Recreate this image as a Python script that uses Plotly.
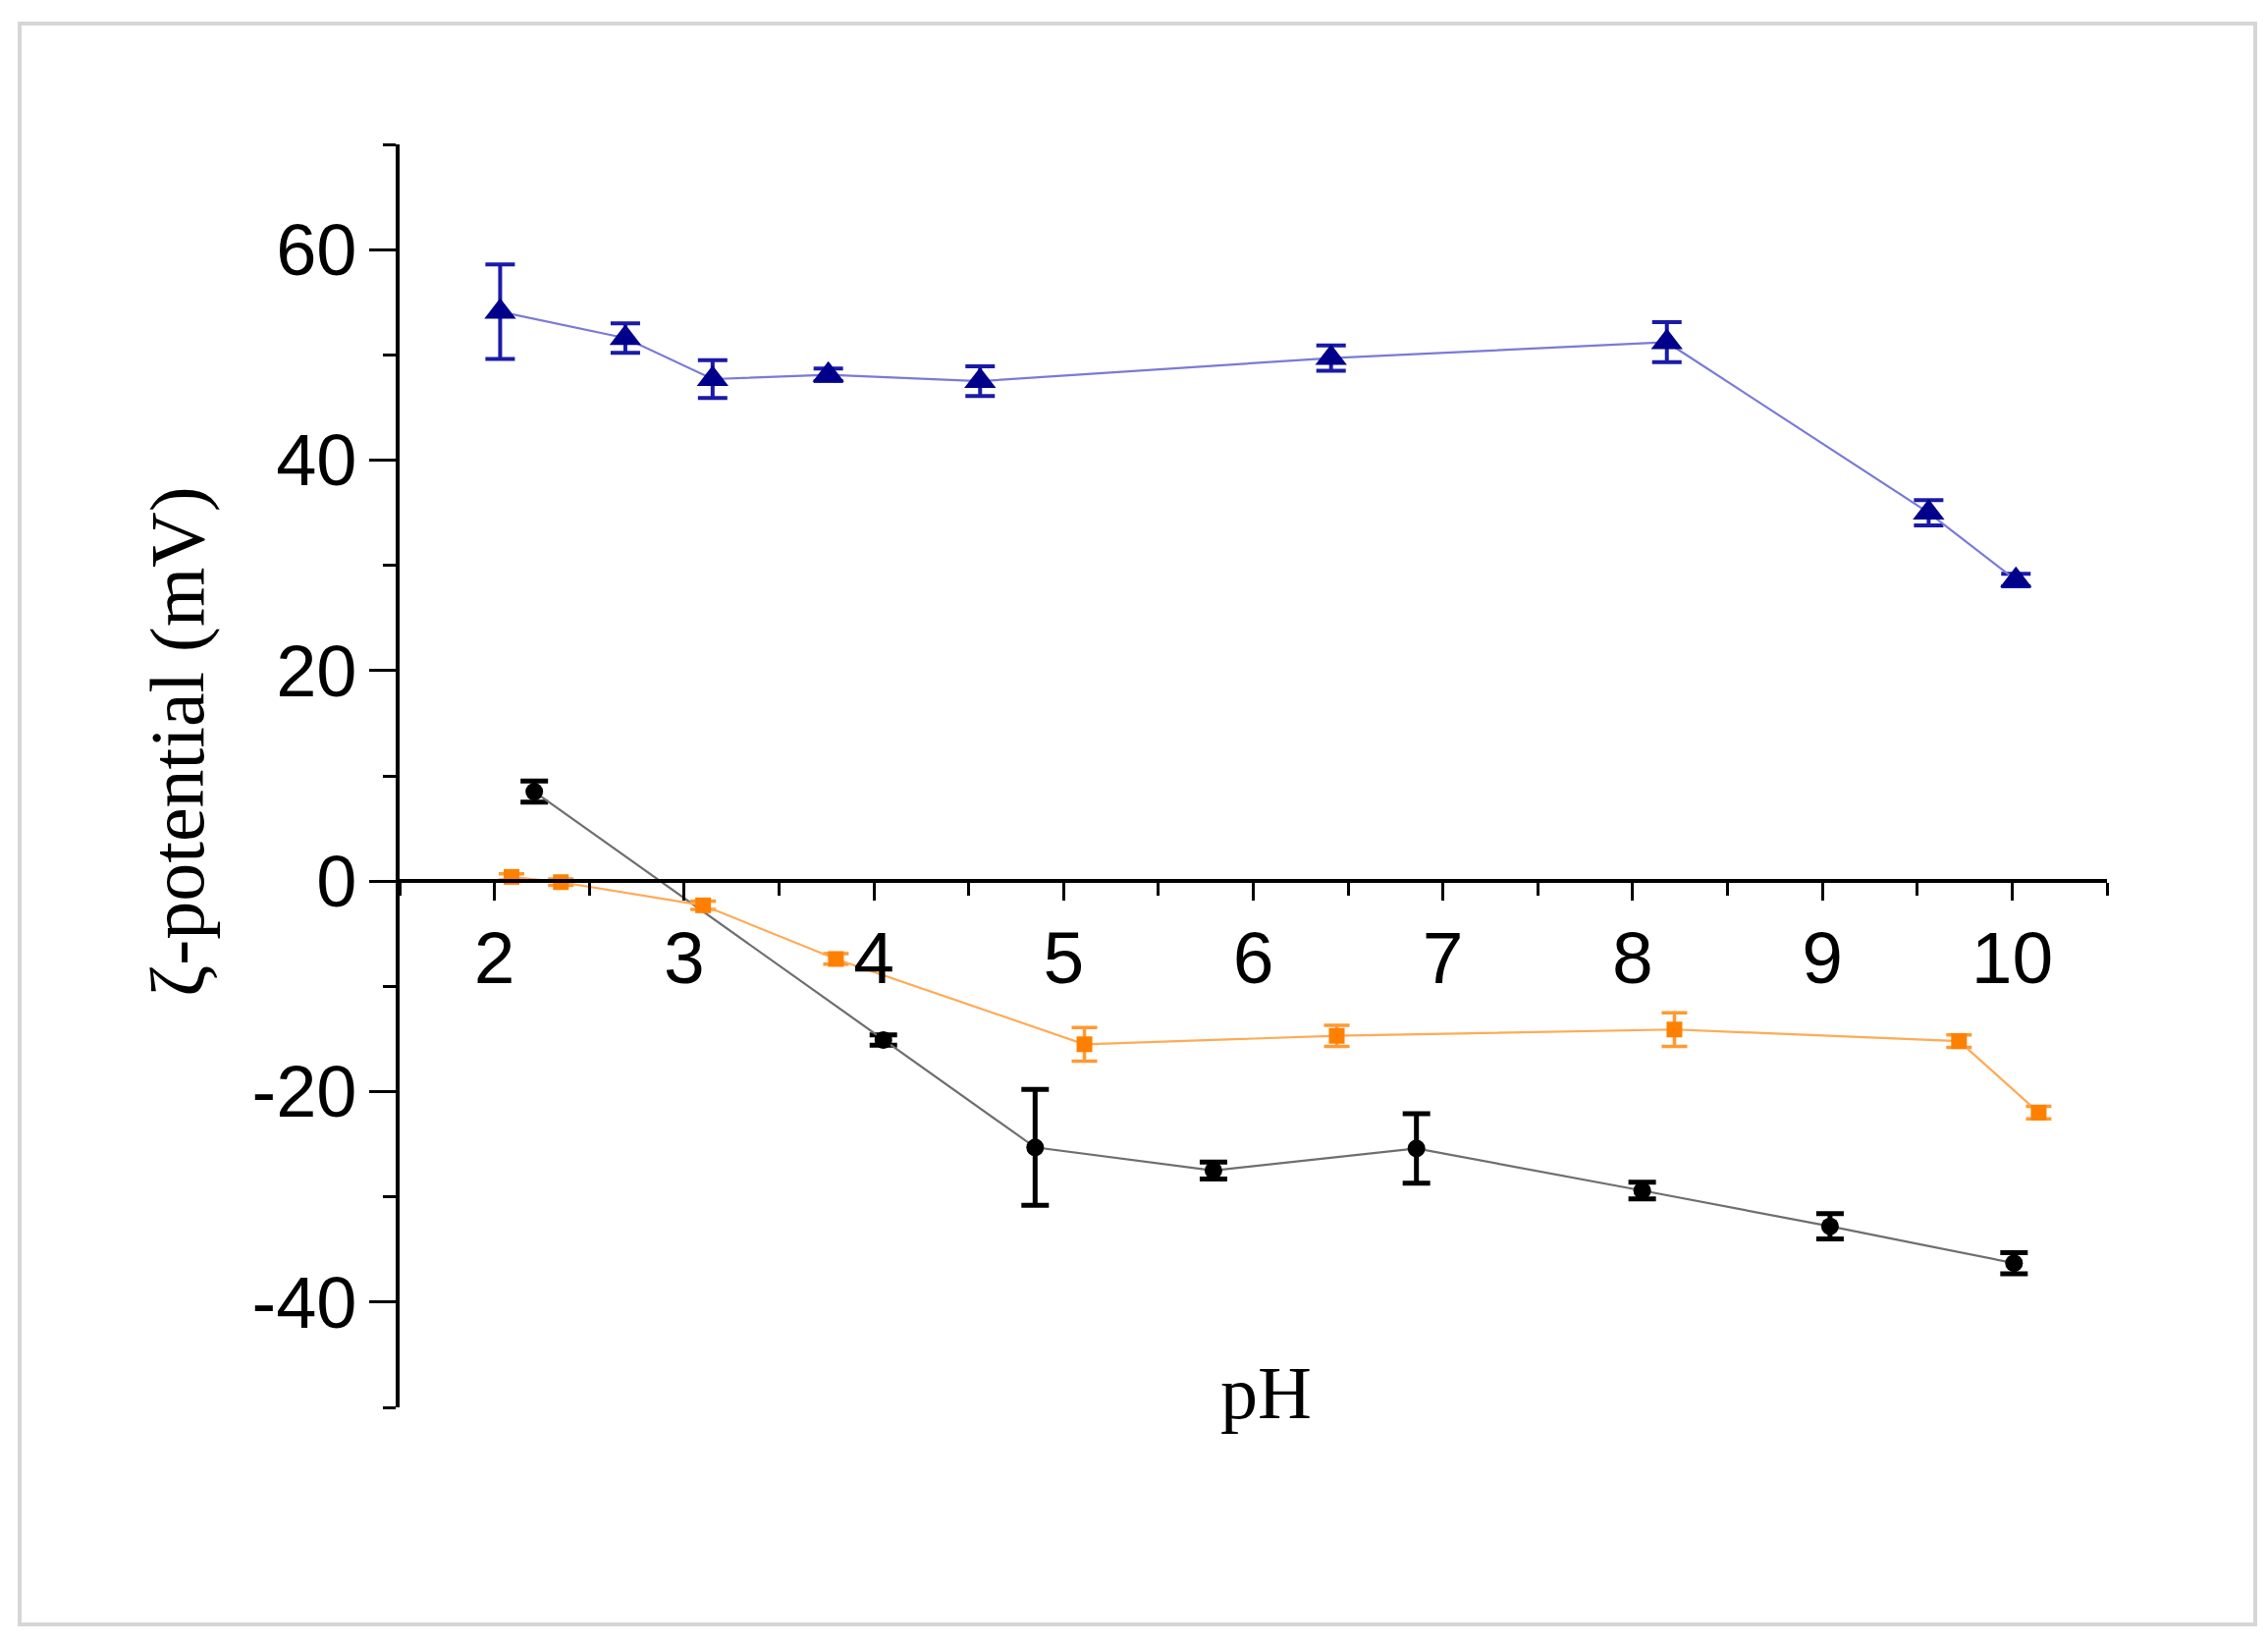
import plotly.graph_objects as go

# ---- data ----
ph_blue = [2.03, 2.69, 3.15, 3.76, 4.56, 6.41, 8.18, 9.56, 10.02]
zeta_blue = [54.1, 51.6, 47.7, 48.1, 47.5, 49.7, 51.2, 35.0, 28.6]
err_blue = [4.5, 1.4, 1.8, 0.6, 1.4, 1.2, 1.9, 1.2, 0.6]

ph_black = [2.21, 4.05, 4.85, 5.79, 6.86, 8.05, 9.04, 10.01]
zeta_black = [8.5, -15.1, -25.3, -27.5, -25.4, -29.4, -32.8, -36.3]
err_black = [1.0, 0.5, 5.5, 0.8, 3.3, 0.8, 1.2, 1.0]

ph_orange = [2.09, 2.35, 3.10, 3.80, 5.11, 6.44, 8.22, 9.72, 10.14]
zeta_orange = [0.4, -0.1, -2.3, -7.4, -15.5, -14.7, -14.1, -15.2, -22.0]
err_orange = [0.3, 0.3, 0.4, 0.5, 1.6, 1.0, 1.6, 0.6, 0.6]

x_ticks = [2, 3, 4, 5, 6, 7, 8, 9, 10]
y_ticks = [-40, -20, 0, 20, 40, 60]

W, H = 2310, 1676
OFF = 8  # page body margin
PW, PH = 1739, 1286
L, T = 407 - OFF, 147 - OFF
R, B = W - L - PW, H - T - PH


def px_x(px):
    return (px - OFF - L) / PW


def px_y(py):
    return (T + PH - (py - OFF)) / PH


fig = go.Figure()

fig.add_trace(go.Scatter(
    x=ph_black, y=zeta_black, mode="lines+markers",
    line=dict(color="#6e6e6e", width=2.2),
    marker=dict(symbol="circle", size=18, color="#000000"),
    error_y=dict(type="data", array=err_black, color="#000000", thickness=5, width=14),
    showlegend=False,
))
fig.add_trace(go.Scatter(
    x=ph_orange, y=zeta_orange, mode="lines+markers",
    line=dict(color="#ffaa55", width=2.2),
    marker=dict(symbol="square", size=16, color="#ff8000"),
    error_y=dict(type="data", array=err_orange, color="#ff9a33", thickness=3.5, width=13),
    showlegend=False,
))
fig.add_trace(go.Scatter(
    x=ph_blue, y=zeta_blue, mode="lines+markers",
    line=dict(color="#7a7ad8", width=2.2),
    marker=dict(symbol="triangle-up", size=28, color="#00008b"),
    error_y=dict(type="data", array=err_blue, color="#1a1aa8", thickness=4, width=15),
    showlegend=False,
))

fig.update_layout(
    width=W, height=H,
    margin=dict(l=L, r=R, t=T, b=B),
    paper_bgcolor="white", plot_bgcolor="white",
    font=dict(family="Liberation Sans, Arial, sans-serif", color="black", size=72),
    xaxis=dict(
        range=[1.5, 10.5], tickvals=x_ticks, ticktext=[str(v) for v in x_ticks],
        showgrid=False, zeroline=False, showline=True, linecolor="black", linewidth=3.5,
        ticks="outside", ticklen=18, tickwidth=3, tickcolor="black",
        minor=dict(dtick=0.5, tick0=0, ticks="outside", ticklen=13, tickwidth=3, tickcolor="black"),
        anchor="free", position=50 / 120,
        tickfont=dict(size=75, family="Liberation Sans, Arial, sans-serif"),
        ticklabelstandoff=-6,
    ),
    yaxis=dict(
        range=[-50, 70], tickvals=y_ticks, ticktext=[str(v) for v in y_ticks],
        showgrid=False, zeroline=False, showline=True, linecolor="black", linewidth=3.5,
        ticks="outside", ticklen=27, tickwidth=3, tickcolor="black",
        minor=dict(dtick=10, tick0=0, ticks="outside", ticklen=13, tickwidth=3, tickcolor="black"),
        tickfont=dict(size=74, family="Liberation Sans, Arial, sans-serif"),
        ticklabelstandoff=-2,
    ),
    annotations=[
        dict(text="ζ-potential (mV)", textangle=-90, xref="paper", yref="paper",
             x=px_x(180), y=px_y(755),
             xanchor="center", yanchor="middle", showarrow=False,
             font=dict(family="Liberation Serif, Times New Roman, serif", size=78, color="black")),
        dict(text="pH", xref="paper", yref="paper",
             x=px_x(1289), y=px_y(1418),
             xanchor="center", yanchor="middle", showarrow=False,
             font=dict(family="Liberation Serif, Times New Roman, serif", size=76, color="black")),
    ],
    shapes=[
        dict(type="rect", xref="paper", yref="paper",
             x0=px_x(20), x1=px_x(2297), y0=px_y(1654), y1=px_y(24),
             line=dict(color="#d6d6d6", width=4), fillcolor="rgba(0,0,0,0)", layer="below"),
    ],
)

fig.write_html("out.html")
